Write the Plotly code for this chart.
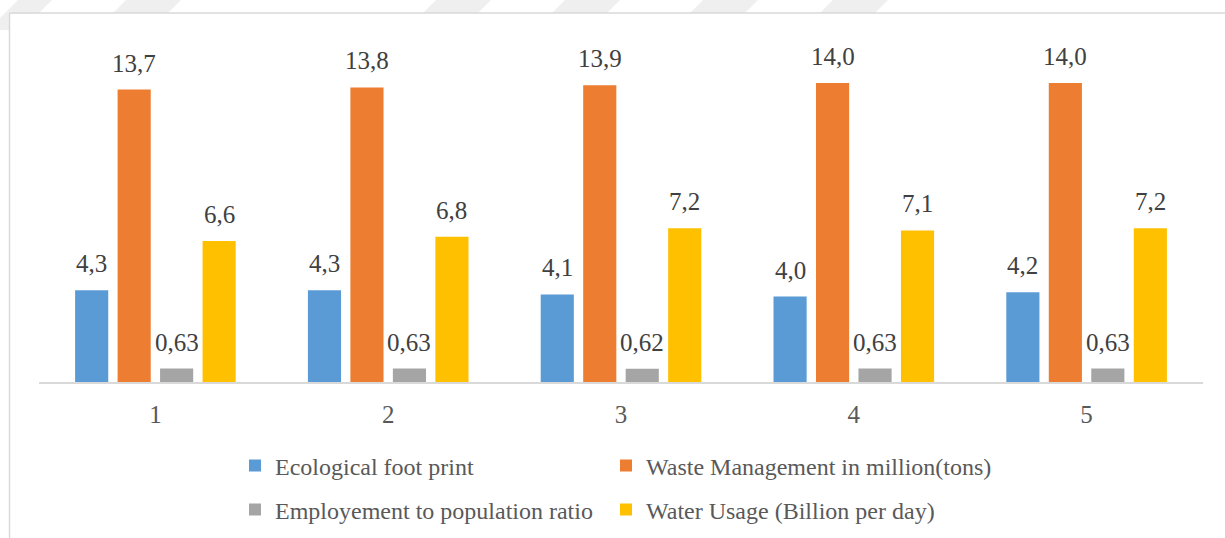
import plotly.graph_objects as go

# ---- data -------------------------------------------------------------
periods = ["1", "2", "3", "4", "5"]
ecological = [4.3, 4.3, 4.1, 4.0, 4.2]
waste = [13.7, 13.8, 13.9, 14.0, 14.0]
employment = [0.63, 0.63, 0.62, 0.63, 0.63]
water = [6.6, 6.8, 7.2, 7.1, 7.2]

series_names = [
    "Ecological foot print",
    "Waste Management in million(tons)",
    "Employement to population ratio",
    "Water Usage (Billion per day)",
]
series_values = [ecological, waste, employment, water]
series_decimals = [1, 1, 2, 1]
series_colors = ["#5B9BD5", "#ED7D31", "#A5A5A5", "#FFC000"]
series_legend = ["legend", "legend2", "legend3", "legend4"]

# ---- layout constants -------------------------------------------------
W, H = 1225, 538
M_L, M_R, M_T, M_B = 39, 22, 40, 156
BARGAP = 0.27
BARGROUPGAP = 0.22
Y_MAX = 16.02
FONT = "Liberation Serif, Times New Roman, serif"

plot_w = W - M_L - M_R
plot_h = H - M_T - M_B


def px_x(px):
    return (px - M_L) / plot_w


def px_y(py):
    return (H - M_B - py) / plot_h


def fmt(v, d):
    return f"{v:.{d}f}".replace(".", ",")


fig = go.Figure()

for name, vals, color, leg in zip(series_names, series_values, series_colors, series_legend):
    fig.add_trace(
        go.Bar(
            name=name,
            x=periods,
            y=vals,
            marker=dict(color=color, line=dict(width=0)),
            legend=leg,
            showlegend=True,
        )
    )

# value labels above each bar
n = len(series_values)
slot = (1 - BARGAP) / n
annotations = []
for k, (vals, dec) in enumerate(zip(series_values, series_decimals)):
    offset = (k - (n - 1) / 2) * slot
    for i, v in enumerate(vals):
        annotations.append(
            dict(
                x=i + offset,
                y=v,
                xref="x",
                yref="y",
                text=fmt(v, dec),
                showarrow=False,
                yanchor="bottom",
                yshift=11,
                font=dict(family=FONT, size=25, color="#404040"),
            )
        )

# chart frame and faint background stripes along the top edge
shapes = []
stripe_starts = [113, 423, 552, 690, 820]
stripe_w, stripe_h = 55, 13
for s in stripe_starts:
    path = (
        f"M {px_x(s)} {px_y(stripe_h)} L {px_x(s + stripe_w)} {px_y(stripe_h)} "
        f"L {px_x(s + stripe_w + stripe_h)} {px_y(0)} L {px_x(s + stripe_h)} {px_y(0)} Z"
    )
    shapes.append(dict(type="path", path=path, xref="paper", yref="paper",
                       fillcolor="#EFEFEF", line=dict(width=0), layer="below"))
shapes.append(dict(type="path",
                   path=(f"M {px_x(18)} {px_y(0)} L {px_x(52)} {px_y(0)} "
                         f"L {px_x(22)} {px_y(30)} L {px_x(-12)} {px_y(30)} Z"),
                   xref="paper", yref="paper", fillcolor="#EFEFEF",
                   line=dict(width=0), layer="below"))
# white chart area
shapes.append(dict(type="rect", xref="paper", yref="paper",
                   x0=px_x(10), x1=px_x(W + 5), y0=px_y(H + 5), y1=px_y(13.5),
                   fillcolor="white", line=dict(width=0), layer="below"))
# frame edges
shapes.append(dict(type="line", xref="paper", yref="paper",
                   x0=px_x(9.5), x1=px_x(W + 5), y0=px_y(13), y1=px_y(13),
                   line=dict(color="#D9D9D9", width=1.5), layer="below"))
shapes.append(dict(type="line", xref="paper", yref="paper",
                   x0=px_x(9.5), x1=px_x(9.5), y0=px_y(13), y1=px_y(H + 5),
                   line=dict(color="#D9D9D9", width=1.5), layer="below"))

legend_common = dict(
    orientation="h",
    xref="container",
    yref="container",
    xanchor="left",
    yanchor="middle",
    font=dict(family=FONT, size=24, color="#595959"),
    bgcolor="rgba(0,0,0,0)",
    itemclick=False,
    itemdoubleclick=False,
)

# legend slots: two columns, two rows
legend_cols = [235, 606, 235, 606]
legend_rows = [466, 466, 510, 510]
legend_layout = {}
for leg, lx, ly in zip(series_legend, legend_cols, legend_rows):
    legend_layout[leg] = dict(x=lx / W, y=1 - ly / H, **legend_common)

fig.update_layout(
    width=W,
    height=H,
    margin=dict(l=M_L, r=M_R, t=M_T, b=M_B, pad=0),
    paper_bgcolor="white",
    plot_bgcolor="white",
    showlegend=True,
    barmode="group",
    bargap=BARGAP,
    bargroupgap=BARGROUPGAP,
    font=dict(family=FONT, color="#595959"),
    xaxis=dict(
        type="category",
        showline=True,
        linecolor="#D9D9D9",
        linewidth=1.5,
        showgrid=False,
        ticks="",
        ticklabelstandoff=9,
        tickfont=dict(family=FONT, size=25, color="#595959"),
    ),
    yaxis=dict(
        range=[0, Y_MAX],
        showgrid=False,
        zeroline=False,
        showticklabels=False,
        showline=False,
    ),
    annotations=annotations,
    shapes=shapes,
    **legend_layout,
)

fig.write_html("out.html")
